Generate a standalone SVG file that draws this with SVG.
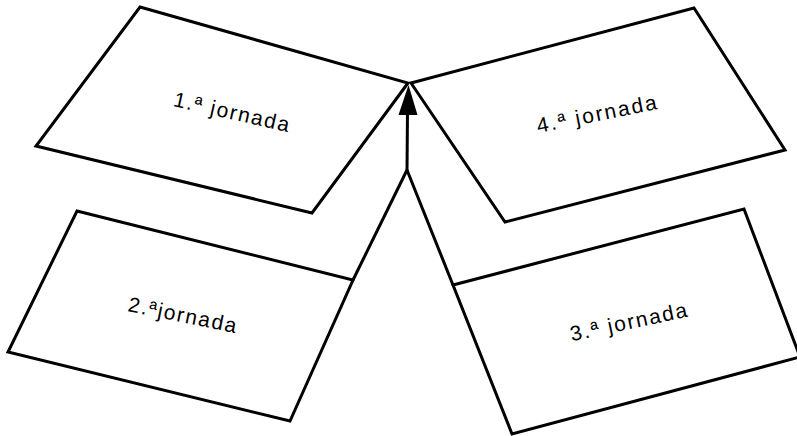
<svg xmlns="http://www.w3.org/2000/svg" width="797" height="436" viewBox="0 0 797 436">
<style>
.box{fill:#fff;stroke:#000;stroke-width:3;stroke-linejoin:miter}
.lbl{font-family:"Liberation Sans",Arial,sans-serif;font-size:21px;fill:#000}
.con{fill:none;stroke:#000;stroke-width:3}
</style>
<rect width="797" height="436" fill="#fff"/>
<g id="jornada1">
<polygon class="box" points="140,7 408,83 312,213 36,146"/>
<text class="lbl" x="230" y="119" text-anchor="middle" textLength="118" lengthAdjust="spacing" transform="rotate(12.7 230 119)">1.ª jornada</text>
</g>
<g id="jornada4">
<polygon class="box" points="411,83 694,8 785,150 505,222"/>
<text class="lbl" x="598" y="121" text-anchor="middle" textLength="122" lengthAdjust="spacing" transform="rotate(-11.3 598 121)">4.ª jornada</text>
</g>
<g id="jornada2">
<polygon class="box" points="77,211 353,280 290,421 8,352"/>
<text class="lbl" x="181" y="322" text-anchor="middle" textLength="110" lengthAdjust="spacing" transform="rotate(11.5 181 322)">2.ªjornada</text>
</g>
<g id="jornada3">
<polygon class="box" points="453,285 744,209 800,357 512,434"/>
<text class="lbl" x="630" y="329" text-anchor="middle" textLength="119" lengthAdjust="spacing" transform="rotate(-12 630 329)">3.ª jornada</text>
</g>
<g id="connectors">
<line class="con" x1="407" y1="170" x2="353" y2="280"/>
<line class="con" x1="407" y1="170" x2="453" y2="285"/>
<line class="con" x1="407" y1="171" x2="407.5" y2="110"/>
<polygon points="408.5,85 398.5,115 417.5,115" fill="#000"/>
</g>
</svg>
